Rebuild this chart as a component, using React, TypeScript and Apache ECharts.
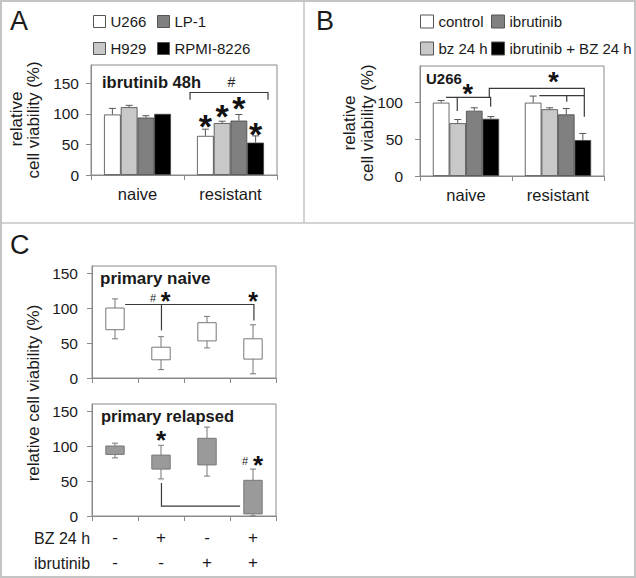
import React, { useEffect, useRef } from "react";
import * as echarts from "echarts";

const FONT = "'Liberation Sans', Arial, Helvetica, sans-serif";
const TXT = "#1a1a1a";
const AX = "#8a8a8a";

// ---------- Panel A: ibrutinib 48h ----------
const groupsAB = ["naive", "resistant"];
const linesA = ["U266", "H929", "LP-1", "RPMI-8226"];
const aU266 = [99, 64];
const aH929 = [111, 85];
const aLP1 = [94, 89];
const aRPMI = [100, 53];
const aU266Err = [109, 75];
const aH929Err = [114, 88];
const aLP1Err = [97, 99];
const aRPMIErr = [100, 64];
const aTicks = [0, 50, 100, 150];

// ---------- Panel B: U266 ----------
const treatB = ["control", "bz 24 h", "ibrutinib", "ibrutinib + BZ 24 h"];
const bControl = [100, 100];
const bBz = [72, 91];
const bIbr = [89, 84];
const bCombo = [78, 49];
const bControlErr = [103, 109];
const bBzErr = [77, 93];
const bIbrErr = [93, 92];
const bComboErr = [81, 58];
const bTicks = [0, 50, 100];

// ---------- Panel C: primary cells (box plots) ----------
const condC = ["1", "2", "3", "4"];
const bzRow = ["-", "+", "-", "+"];
const ibrRow = ["-", "-", "+", "+"];
const naiveMin = [56, 12, 43, 6];
const naiveQ1 = [69, 26, 53, 27];
const naiveQ3 = [100, 44, 79, 56];
const naiveMax = [113, 59, 88, 76];
const relMin = [83, 53, 57, 0];
const relQ1 = [88, 67, 73, 3];
const relQ3 = [100, 87, 111, 51];
const relMax = [104, 101, 127, 67];
const cTicks = [0, 50, 100, 150];

// ---------- annotations: [category, offset in category widths, value] ----------
const aBrackets = [[[1, -0.435, 123], [1, -0.435, 135], [1, 0.403, 135], [1, 0.403, 123]]];
const aStars = [[1, -0.27, 87], [1, -0.09, 104], [1, 0.09, 117], [1, 0.27, 74]];
const aHashes = [[1, 0.01, 153]];

const bBrackets = [
  [[0, -0.217, 107.3], [0, 0.268, 107.3], [0, 0.268, 94.5]],
  [[0, -0.095, 107.3], [0, -0.095, 88.6]],
  [[0, 0.253, 107.3], [0, 0.253, 119.6], [1, 0.286, 119.6], [1, 0.286, 80.9]],
  [[1, -0.203, 109.5], [1, 0.286, 109.5]],
  [[1, 0.095, 109.5], [1, 0.095, 101.3]],
];
const bStars = [[0, 0.02, 116], [1, -0.05, 133]];

const c1Brackets = [
  [[0, 0.22, 105], [3, 0.02, 105], [3, 0.02, 82]],
  [[1, 0.01, 105], [1, 0.01, 68]],
];
const c1Stars = [[1, 0.1, 114], [3, 0.0, 114]];
const c1Hashes = [[1, -0.17, 114]];

const c2Brackets = [[[1, 0.01, 47], [1, 0.01, 14], [3, -0.28, 14]]];
const c2Stars = [[1, 0.0, 113], [3, 0.11, 78]];
const c2Hashes = [[3, -0.17, 78]];

const barColors = ["#ffffff", "#c8c8c8", "#808080", "#000000"];
const GAP = 0.28;

function toPx(api: any, p: number[]) {
  const c = api.coord([p[0], p[2]]);
  const w = api.size([1, 0])[0];
  return [c[0] + p[1] * w, c[1]];
}

function barSeries(idx: number, name: string, vals: number[], color: string) {
  return {
    type: "bar",
    name,
    xAxisIndex: idx,
    yAxisIndex: idx,
    data: vals,
    barGap: "0%",
    barCategoryGap: GAP * 100 + "%",
    itemStyle: { color, borderColor: "#444", borderWidth: 0.8 },
    silent: true,
  };
}

function errSeries(idx: number, vals: number[][], errs: number[][]) {
  const data: number[][] = [];
  vals.forEach((v, s) => v.forEach((val, i) => data.push([i, s, val, errs[s][i]])));
  return {
    type: "custom",
    xAxisIndex: idx,
    yAxisIndex: idx,
    silent: true,
    z: 4,
    encode: { x: 0, y: 2 },
    data,
    renderItem: (params: any, api: any) => {
      const cat = api.value(0);
      const s = api.value(1);
      const v = api.value(2);
      const e = api.value(3);
      if (e <= v) return { type: "group", children: [] };
      const catW = api.size([1, 0])[0];
      const base = api.coord([cat, v]);
      const top = api.coord([cat, e]);
      const barW = (catW * (1 - GAP)) / 4;
      const x = base[0] - (catW * (1 - GAP)) / 2 + barW * (s + 0.5);
      const st = { stroke: "#555", lineWidth: 1 };
      return {
        type: "group",
        children: [
          { type: "line", shape: { x1: x, y1: base[1], x2: x, y2: top[1] }, style: st },
          { type: "line", shape: { x1: x - 3.5, y1: top[1], x2: x + 3.5, y2: top[1] }, style: st },
        ],
      };
    },
  };
}

function boxSeries(idx: number, mins: number[], q1s: number[], q3s: number[], maxs: number[], fill: string) {
  return {
    type: "custom",
    xAxisIndex: idx,
    yAxisIndex: idx,
    silent: true,
    encode: { x: 0, y: [1, 2, 3, 4] },
    data: mins.map((m, i) => [i, m, q1s[i], q3s[i], maxs[i]]),
    renderItem: (params: any, api: any) => {
      const cat = api.value(0);
      const lo = api.coord([cat, api.value(1)]);
      const q1 = api.coord([cat, api.value(2)]);
      const q3 = api.coord([cat, api.value(3)]);
      const hi = api.coord([cat, api.value(4)]);
      const w = api.size([1, 0])[0] * 0.4;
      const x = lo[0];
      const st = { stroke: "#777", lineWidth: 1 };
      return {
        type: "group",
        children: [
          { type: "line", shape: { x1: x, y1: hi[1], x2: x, y2: q3[1] }, style: st },
          { type: "line", shape: { x1: x, y1: q1[1], x2: x, y2: lo[1] }, style: st },
          { type: "line", shape: { x1: x - 3, y1: hi[1], x2: x + 3, y2: hi[1] }, style: st },
          { type: "line", shape: { x1: x - 3, y1: lo[1], x2: x + 3, y2: lo[1] }, style: st },
          {
            type: "rect",
            shape: { x: x - w / 2, y: q3[1], width: w, height: q1[1] - q3[1] },
            style: { fill, stroke: "#777", lineWidth: 1 },
          },
        ],
      };
    },
  };
}

function annotSeries(idx: number, brackets: number[][][], stars: number[][], hashes: number[][], starSize: number, hashSize: number) {
  const items: any[] = [
    ...brackets.map((b) => ({ k: "b", d: b })),
    ...stars.map((s) => ({ k: "s", d: s })),
    ...hashes.map((h) => ({ k: "h", d: h })),
  ];
  return {
    type: "custom",
    xAxisIndex: idx,
    yAxisIndex: idx,
    silent: true,
    clip: false,
    z: 6,
    data: items.map(() => [0, 0]),
    renderItem: (params: any, api: any) => {
      const it = items[params.dataIndex];
      if (it.k === "b") {
        return {
          type: "polyline",
          shape: { points: it.d.map((p: number[]) => toPx(api, p)) },
          style: { stroke: "#3a3a3a", lineWidth: 1.2, fill: "none" },
        };
      }
      const xy = toPx(api, it.d);
      if (it.k === "s") {
        return {
          type: "text",
          x: xy[0],
          y: xy[1] + starSize * 0.13,
          style: {
            text: "*",
            fontSize: starSize,
            fontWeight: "bold",
            fontFamily: FONT,
            fill: "#111",
            textAlign: "center",
            textVerticalAlign: "middle",
          },
        };
      }
      return {
        type: "text",
        x: xy[0],
        y: xy[1],
        style: {
          text: "#",
          fontSize: hashSize,
          fontFamily: FONT,
          fill: "#222",
          textAlign: "center",
          textVerticalAlign: "middle",
        },
      };
    },
  };
}

function catAxis(idx: number, data: string[], labelOpt: any) {
  return {
    type: "category",
    gridIndex: idx,
    data,
    axisLine: { show: true, lineStyle: { color: AX, width: 1 } },
    axisTick: { show: true, length: 5, lineStyle: { color: AX } },
    axisLabel: { fontSize: 16.5, color: TXT, fontFamily: FONT, ...labelOpt },
    splitLine: { show: false },
  };
}

function valAxis(idx: number, max: number, ticks: number[], margin: number) {
  return {
    type: "value",
    gridIndex: idx,
    min: 0,
    max,
    interval: 50,
    axisLine: { show: true, lineStyle: { color: AX, width: 1 } },
    axisTick: { show: true, length: 5, lineStyle: { color: AX }, customValues: ticks },
    axisLabel: { fontSize: 15.5, color: TXT, fontFamily: FONT, margin, customValues: ticks },
    splitLine: { show: false },
  };
}

function legendCol(names: string[], left: number, size: number) {
  return {
    data: names,
    orient: "vertical",
    left,
    top: 14,
    padding: 0,
    itemWidth: size,
    itemHeight: size,
    itemGap: 12,
    icon: "rect",
    selectedMode: false,
    itemStyle: { borderColor: "#555", borderWidth: 1 },
    textStyle: { fontSize: 15, color: TXT, fontFamily: FONT },
  };
}

function txt(text: string, x: number, y: number, size: number, bold = false, rotate = false, align = "left") {
  return {
    type: "text",
    x,
    y,
    rotation: rotate ? Math.PI / 2 : 0,
    silent: true,
    style: {
      text,
      fontSize: size,
      fontWeight: bold ? "bold" : "normal",
      fontFamily: FONT,
      fill: TXT,
      textAlign: rotate ? "center" : align,
      textVerticalAlign: "middle",
    },
  };
}

export default function App() {
  const ref = useRef<HTMLDivElement>(null);
  useEffect(() => {
    if (!ref.current) return;
    const chart = echarts.init(ref.current, undefined, { renderer: "svg" });
    const gridStyle = { show: true, borderColor: AX, borderWidth: 1, containLabel: false };
    const aVals = [aU266, aH929, aLP1, aRPMI];
    const aErrs = [aU266Err, aH929Err, aLP1Err, aRPMIErr];
    const bVals = [bControl, bBz, bIbr, bCombo];
    const bErrs = [bControlErr, bBzErr, bIbrErr, bComboErr];
    const option: any = {
      animation: false,
      backgroundColor: "#ffffff",
      textStyle: { fontFamily: FONT },
      grid: [
        { ...gridStyle, left: 91, top: 65, width: 186, height: 110 },
        { ...gridStyle, left: 420, top: 66, width: 184, height: 110 },
        { ...gridStyle, left: 92, top: 266, width: 184, height: 112 },
        { ...gridStyle, left: 92, top: 404, width: 184, height: 112 },
      ],
      xAxis: [
        catAxis(0, groupsAB, { margin: 10 }),
        catAxis(1, groupsAB, { margin: 10 }),
        catAxis(2, condC, { show: false }),
        catAxis(3, condC, {
          fontSize: 17,
          margin: 9,
          lineHeight: 25,
          formatter: (v: string, i: number) => bzRow[i] + "\n" + ibrRow[i],
        }),
      ],
      yAxis: [
        valAxis(0, 180, aTicks, 12),
        valAxis(1, 150, bTicks, 17),
        valAxis(2, 160, cTicks, 14),
        valAxis(3, 160, cTicks, 14),
      ],
      legend: [
        legendCol([linesA[0], linesA[1]], 93, 12),
        legendCol([linesA[2], linesA[3]], 157, 12),
        legendCol([treatB[0], treatB[1]], 420, 13),
        legendCol([treatB[2], treatB[3]], 491, 13),
      ],
      graphic: [
        { type: "rect", silent: true, shape: { x: 1, y: 1, width: 634, height: 576 }, style: { fill: "none", stroke: "#c4c4c4", lineWidth: 2 } },
        { type: "line", silent: true, shape: { x1: 0, y1: 223, x2: 636, y2: 223 }, style: { stroke: "#c4c4c4", lineWidth: 1.5 } },
        { type: "line", silent: true, shape: { x1: 304, y1: 0, x2: 304, y2: 223 }, style: { stroke: "#c4c4c4", lineWidth: 1.5 } },
        txt("A", 10, 21, 27),
        txt("B", 316, 21, 27),
        txt("C", 10, 245, 27),
        txt("ibrutinib 48h", 102, 82, 16.5, true),
        txt("U266", 426, 78, 15, true),
        txt("primary naive", 100, 278, 17, true),
        txt("primary relapsed", 101, 416, 16.5, true),
        txt("relative", 16, 119, 17, false, true),
        txt("cell viability (%)", 33, 120, 17, false, true),
        txt("relative", 349, 123, 17, false, true),
        txt("cell viability (%)", 367, 123, 17, false, true),
        txt("relative cell viability (%)", 33, 393, 17, false, true),
        txt("BZ 24 h", 34, 538, 16),
        txt("ibrutinib", 34, 563, 16),
      ],
      series: [
        ...linesA.map((n, s) => barSeries(0, n, aVals[s], barColors[s])),
        errSeries(0, aVals, aErrs),
        annotSeries(0, aBrackets, aStars, aHashes, 34, 14),
        ...treatB.map((n, s) => barSeries(1, n, bVals[s], barColors[s])),
        errSeries(1, bVals, bErrs),
        annotSeries(1, bBrackets, bStars, [], 27, 14),
        boxSeries(2, naiveMin, naiveQ1, naiveQ3, naiveMax, "#ffffff"),
        annotSeries(2, c1Brackets, c1Stars, c1Hashes, 25, 11),
        boxSeries(3, relMin, relQ1, relQ3, relMax, "#9a9a9a"),
        annotSeries(3, c2Brackets, c2Stars, c2Hashes, 26, 11),
      ],
    };
    chart.setOption(option);
    return () => chart.dispose();
  }, []);
  return <div ref={ref} style={{ position: "fixed", left: 0, top: 0, width: 636, height: 578 }} />;
}
